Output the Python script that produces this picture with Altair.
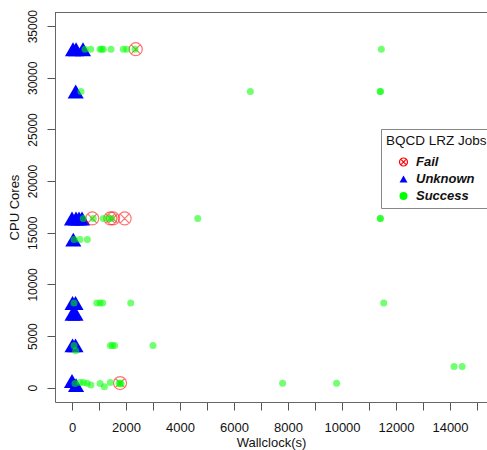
import altair as alt
import pandas as pd

# ---- data ----
unknown_x = [37, 150, 407, 137, 0, 148, 260, 370, 48, 20, 130, 20, 130, 20, 130, 0, 150]
unknown_y = [32768, 32768, 32768, 28672, 16384, 16384, 16384, 16384, 14336,
             8192, 8192, 7168, 7168, 4096, 4096, 650, 250]

fail_x = [2360, 750, 1420, 1520, 1950, 1780]
fail_y = [32768, 16384, 16384, 16384, 16384, 448]

success_x = [481, 692, 1037, 1100, 1160, 1444, 1900, 2025, 2333, 11456,
             333, 6604, 11419, 11419,
             419, 789, 1160, 1345, 1470, 4655, 11420, 11420,
             74, 296, 567,
             74, 915, 1037, 1137, 2175, 11545,
             74, 1420, 1500, 1580, 3000,
             137,
             111, 300, 420, 560, 700, 1040, 1200, 1420, 1740, 1780, 1820, 7800, 9800,
             14150, 14450]
success_y = [32768] * 10 + \
            [28672] * 4 + \
            [16384] * 8 + \
            [14336] * 3 + \
            [8192] * 6 + \
            [4096] * 5 + \
            [3584] + \
            [400, 500, 512, 420, 250, 400, 100, 512, 400, 450, 350, 430, 430] + \
            [2048, 2048]

status_order = ["Fail", "Unknown", "Success"]
x_tick_values = list(range(0, 16000, 1000))
y_tick_values = list(range(0, 40000, 5000))

rows = []
for x, y in zip(unknown_x, unknown_y):
    rows.append({"wallclock": x, "cores": y, "status": "Unknown"})
for x, y in zip(fail_x, fail_y):
    rows.append({"wallclock": x, "cores": y, "status": "Fail"})
for x, y in zip(success_x, success_y):
    rows.append({"wallclock": x, "cores": y, "status": "Success"})
df = pd.DataFrame(rows)

FONT = "Liberation Sans"
cross_circle = ("M-1,0A1,1 0 1,1 1,0A1,1 0 1,1 -1,0"
                "M-0.7071,-0.7071L0.7071,0.7071M-0.7071,0.7071L0.7071,-0.7071")

xscale = alt.Scale(domain=[-630, 15370], nice=False, zero=False)
yscale = alt.Scale(domain=[-1384, 36370], nice=False, zero=False)

leg = alt.Legend(title="BQCD LRZ Jobs", orient="none", legendX=326, legendY=117)

size_enc = alt.when(alt.datum.status == "Fail").then(alt.value(169)) \
    .when(alt.datum.status == "Unknown").then(alt.value(260)) \
    .otherwise(alt.value(49))
opacity_enc = alt.when(alt.datum.status == "Unknown").then(alt.value(1.0)) \
    .otherwise(alt.value(0.55))

points = alt.Chart(df).mark_point(strokeWidth=1.2).encode(
    x=alt.X("wallclock:Q", scale=xscale,
            axis=alt.Axis(values=x_tick_values, format="d",
                          labelExpr="datum.value % 2000 == 0 ? datum.label : ''",
                          title="Wallclock(s)", tickSize=8, labelPadding=21.7,
                          labelBaseline="alphabetic", labelFontSize=13,
                          titleFontSize=13, titleX=216, titleY=44.5,
                          titleBaseline="alphabetic", titleAlign="center",
                          labelOverlap=False)),
    y=alt.Y("cores:Q", scale=yscale,
            axis=alt.Axis(values=y_tick_values, format="d", title="CPU Cores",
                          tickSize=8, labelPadding=10.3, labelAngle=270,
                          labelAlign="center", labelBaseline="alphabetic",
                          labelFontSize=12, titleFontSize=13, titleAngle=270,
                          titleX=-37, titleY=195, titleBaseline="alphabetic",
                          titleAlign="center")),
    fill=alt.Fill("status:N", scale=alt.Scale(domain=status_order,
                  range=["transparent", "#0000ff", "#00ff00"]), legend=leg),
    stroke=alt.Stroke("status:N", scale=alt.Scale(domain=status_order,
                      range=["#ff0000", "transparent", "transparent"]), legend=leg),
    shape=alt.Shape("status:N", scale=alt.Scale(domain=status_order,
                    range=[cross_circle, "triangle-up", "circle"]), legend=leg),
    size=size_enc,
    opacity=opacity_enc,
)

# top edge of the plot frame (R box(); the right edge lies outside the picture)
frame_top = alt.Chart().mark_rule(color="#666666", strokeWidth=1).encode(
    x=alt.value(0), x2=alt.value(432), y=alt.value(0.5),
)

chart = alt.layer(points, frame_top, data=df).properties(
    width=432, height=390,
    padding={"left": 55, "top": 12, "right": 0, "bottom": 48},
    autosize=alt.AutoSizeParams(type="none"),
).configure_view(stroke="transparent").configure_axis(
    grid=False, domainColor="#666666", tickColor="#555555",
    labelFont=FONT, titleFont=FONT, labelColor="#111", titleColor="#111",
    titleFontWeight="normal",
).configure_legend(
    strokeColor="#888888", fillColor="white", padding=5,
    titleFont=FONT, titleFontSize=13.5, titleFontWeight="normal", titleColor="#111",
    titlePadding=8,
    labelFont=FONT, labelFontSize=13, labelFontStyle="italic", labelFontWeight="bold",
    labelColor="#111", labelOffset=6, symbolOffset=11, symbolSize=64,
    rowPadding=3, symbolStrokeWidth=1.2,
)

chart.save("out.html", embed_options={"renderer": "svg", "actions": False})
